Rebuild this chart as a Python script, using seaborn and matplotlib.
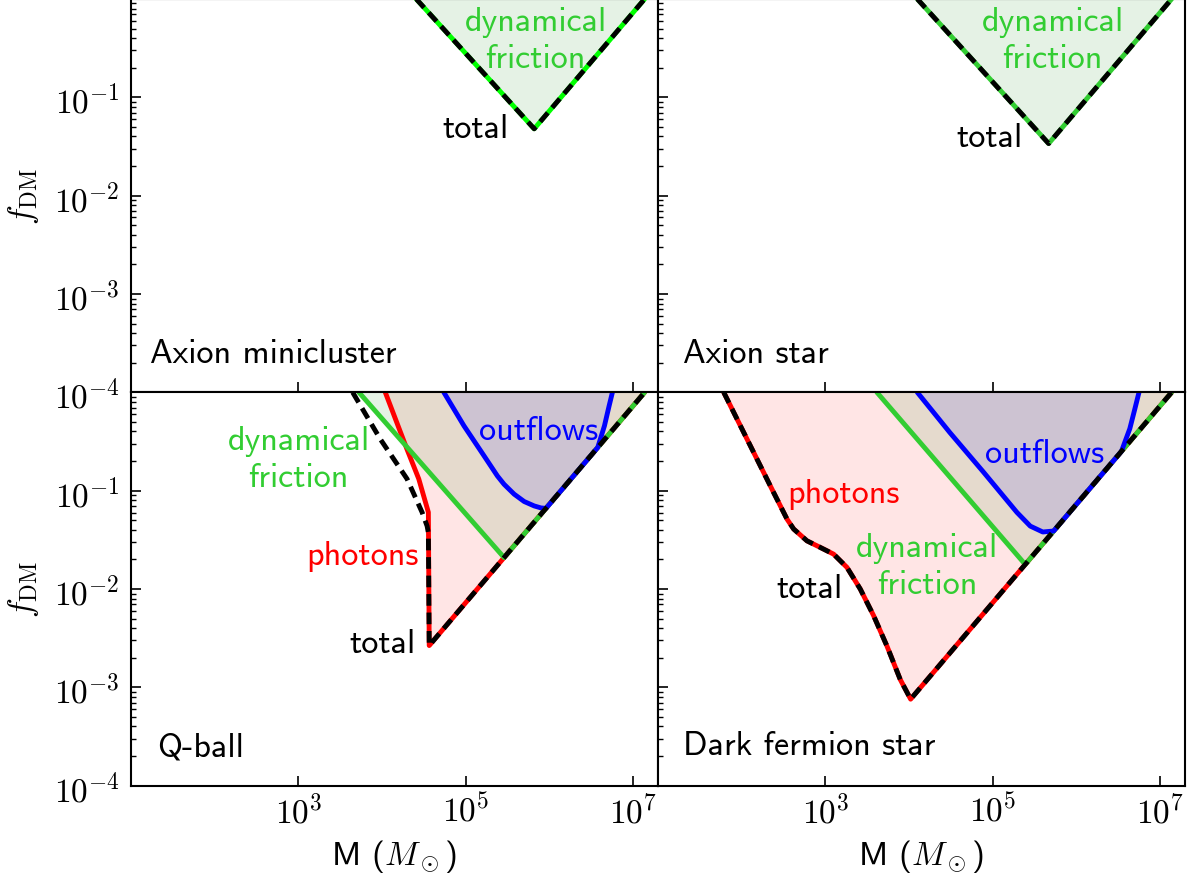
import matplotlib
matplotlib.use('Agg')
import numpy as np
import matplotlib.pyplot as plt
import seaborn as sns
from matplotlib.ticker import NullLocator, LogLocator

# valores, em log10 (M em M_sun, f_DM)
# a borda de cima, f = M / M_max, chega em f = 1 em log M = 7.14

# Axion minicluster
amc_df_logM = [4.41, 5.82, 7.14]
amc_df_logf = [0.0, -1.32, 0.0]

# Axion star
ast_df_logM = [4.10, 5.67, 7.14]
ast_df_logf = [0.0, -1.47, 0.0]

# Q-ball
qb_ph_logM = [4.04, 4.30, 4.44, 4.555, 4.565, 7.14]
qb_ph_logf = [0.0, -0.58, -0.88, -1.22, -2.575, 0.0]
qb_df_logM = [3.725, 5.46, 7.14]
qb_df_logf = [0.0, -1.68, 0.0]
qb_out_logM = [4.74, 4.98, 5.22, 5.38, 5.46, 5.58, 5.70, 5.82, 5.90, 5.96, 6.58, 6.66, 6.715, 6.755]
qb_out_logf = [0.0, -0.34, -0.645, -0.85, -0.935, -1.035, -1.11, -1.155, -1.175, -1.18, -0.56, -0.34, -0.14, 0.0]
qb_tot_logM = [3.65, 3.98, 4.30, 4.48, 4.54, 4.555, 4.565, 7.14]
qb_tot_logf = [0.0, -0.475, -0.88, -1.22, -1.36, -1.43, -2.575, 0.0]

# Dark fermion star
dfs_ph_logM = [1.786, 1.985, 2.184, 2.383, 2.543, 2.622, 2.781, 2.94, 3.099,
               3.259, 3.418, 3.577, 3.737, 3.896, 4.02, 7.14]
dfs_ph_logf = [0.0, -0.34, -0.68, -1.02, -1.29, -1.39, -1.51, -1.577, -1.645,
               -1.78, -2.0, -2.27, -2.58, -2.92, -3.12, 0.0]
dfs_df_logM = [3.617, 5.39, 7.14]
dfs_df_logf = [0.0, -1.75, 0.0]
dfs_out_logM = [4.10, 4.49, 4.89, 5.29, 5.45, 5.60, 5.73, 6.54, 6.64, 6.70, 6.75]
dfs_out_logf = [0.0, -0.41, -0.81, -1.22, -1.36, -1.42, -1.41, -0.60, -0.37, -0.17, 0.0]
dfs_tot_logM = dfs_ph_logM
dfs_tot_logf = dfs_ph_logf

sns.set_style('ticks')
plt.rcParams['font.family'] = 'cmr10'
plt.rcParams['mathtext.fontset'] = 'cm'
plt.rcParams['axes.formatter.use_mathtext'] = True
plt.rcParams['axes.linewidth'] = 1.5
plt.rcParams['axes.edgecolor'] = 'black'
plt.rcParams['text.color'] = 'black'
plt.rcParams['axes.labelcolor'] = 'black'
plt.rcParams['xtick.color'] = 'black'
plt.rcParams['ytick.color'] = 'black'

FS = 24.5
SANS = 'cmss10'
GREEN = 'limegreen'
LW = 3.5


def regiao(ax, logM, logf, cor_fill):
    M = 10 ** np.array(logM)
    f = 10 ** np.array(logf)
    ax.fill(M, f, color=cor_fill, alpha=0.1, lw=0)
    return M, f


def linha(ax, M, f, cor):
    sns.lineplot(x=M, y=f, sort=False, estimator=None, color=cor, lw=LW,
                 solid_joinstyle='round', ax=ax)


def total(ax, logM, logf):
    sns.lineplot(x=10 ** np.array(logM), y=10 ** np.array(logf), sort=False,
                 estimator=None, color='black', lw=LW, linestyle=(0, (2.4, 1.4)),
                 dash_joinstyle='round', ax=ax)


fig, axes = plt.subplots(2, 2, sharex=True, sharey=True, figsize=(11.93, 8.79), dpi=100)
plt.subplots_adjust(left=0.1098, right=0.9933, top=1.0, bottom=0.105, hspace=0, wspace=0)

ax = axes[0, 0]
ax.set_xscale('log')
ax.set_yscale('log')

# painel 1: Axion minicluster
M, f = regiao(ax, amc_df_logM, amc_df_logf, 'green')
linha(ax, M, f, 'lime')
total(ax, amc_df_logM, amc_df_logf)
ax.text(0.768, 0.982, 'dynamical\nfriction', transform=ax.transAxes, ha='center', va='top',
        color=GREEN, fontsize=FS, family=SANS, linespacing=1.25)
ax.text(0.717, 0.649, 'total', transform=ax.transAxes, ha='right', va='baseline',
        fontsize=FS, family=SANS)
ax.text(0.036, 0.077, 'Axion minicluster', transform=ax.transAxes, ha='left', va='baseline',
        fontsize=FS, family=SANS)

# painel 2: Axion star
ax = axes[0, 1]
M, f = regiao(ax, ast_df_logM, ast_df_logf, 'green')
linha(ax, M, f, GREEN)
total(ax, ast_df_logM, ast_df_logf)
ax.text(0.749, 0.982, 'dynamical\nfriction', transform=ax.transAxes, ha='center', va='top',
        color=GREEN, fontsize=FS, family=SANS, linespacing=1.25)
ax.text(0.691, 0.627, 'total', transform=ax.transAxes, ha='right', va='baseline',
        fontsize=FS, family=SANS)
ax.text(0.047, 0.077, 'Axion star', transform=ax.transAxes, ha='left', va='baseline',
        fontsize=FS, family=SANS)

# painel 3: Q-ball
ax = axes[1, 0]
M1, f1 = regiao(ax, qb_ph_logM, qb_ph_logf, 'red')
M2, f2 = regiao(ax, qb_df_logM, qb_df_logf, 'green')
M3, f3 = regiao(ax, qb_out_logM, qb_out_logf, 'blue')
linha(ax, M1, f1, 'red')
linha(ax, M2, f2, GREEN)
linha(ax, M3, f3, 'blue')
total(ax, qb_tot_logM, qb_tot_logf)
ax.text(0.318, 0.918, 'dynamical\nfriction', transform=ax.transAxes, ha='center', va='top',
        color=GREEN, fontsize=FS, family=SANS, linespacing=1.25)
ax.text(0.546, 0.563, 'photons', transform=ax.transAxes, ha='right', va='baseline',
        color='red', fontsize=FS, family=SANS)
ax.text(0.540, 0.340, 'total', transform=ax.transAxes, ha='right', va='baseline',
        fontsize=FS, family=SANS)
ax.text(0.660, 0.881, 'outflows', transform=ax.transAxes, ha='left', va='baseline',
        color='blue', fontsize=FS, family=SANS)
ax.text(0.049, 0.076, 'Q-ball', transform=ax.transAxes, ha='left', va='baseline',
        fontsize=FS, family=SANS)

# painel 4: Dark fermion star
ax = axes[1, 1]
M1, f1 = regiao(ax, dfs_ph_logM, dfs_ph_logf, 'red')
M2, f2 = regiao(ax, dfs_df_logM, dfs_df_logf, 'green')
M3, f3 = regiao(ax, dfs_out_logM, dfs_out_logf, 'blue')
linha(ax, M1, f1, 'red')
linha(ax, M2, f2, GREEN)
linha(ax, M3, f3, 'blue')
total(ax, dfs_tot_logM, dfs_tot_logf)
ax.text(0.511, 0.644, 'dynamical\nfriction', transform=ax.transAxes, ha='center', va='top',
        color=GREEN, fontsize=FS, family=SANS, linespacing=1.25)
ax.text(0.246, 0.720, 'photons', transform=ax.transAxes, ha='left', va='baseline',
        color='red', fontsize=FS, family=SANS)
ax.text(0.350, 0.479, 'total', transform=ax.transAxes, ha='right', va='baseline',
        fontsize=FS, family=SANS)
ax.text(0.621, 0.822, 'outflows', transform=ax.transAxes, ha='left', va='baseline',
        color='blue', fontsize=FS, family=SANS)
ax.text(0.047, 0.08, 'Dark fermion star', transform=ax.transAxes, ha='left', va='baseline',
        fontsize=FS, family=SANS)

# eixos
ax.set_xlim(10, 10 ** 7.3)
ax.set_ylim(1e-4, 1)
ax.set_xticks([1e3, 1e5, 1e7])
ax.xaxis.set_minor_locator(NullLocator())
ax.set_yticks([1e-4, 1e-3, 1e-2, 1e-1])
ax.yaxis.set_minor_locator(LogLocator(base=10, subs=np.arange(2, 10)))

for a in axes.flat:
    a.tick_params(which='both', direction='in', top=False, right=False, labelsize=24)
    a.tick_params(which='major', length=7, width=1.2)
    a.tick_params(which='minor', length=3.5, width=1)
    a.tick_params(axis='y', pad=8)
    a.tick_params(axis='x', pad=5)
    a.set_xlabel('')
    a.set_ylabel('')

for a in axes[:, 0]:
    a.set_ylabel(r'$f_{\rm DM}$', fontsize=24)
    a.yaxis.set_label_coords(-0.17, 0.5)
for a in axes[1, :]:
    a.set_xlabel(r'M ($M_\odot$)', fontsize=24, family=SANS)
    a.xaxis.set_label_coords(0.5, -0.13)

plt.savefig('out.png', dpi=100)
